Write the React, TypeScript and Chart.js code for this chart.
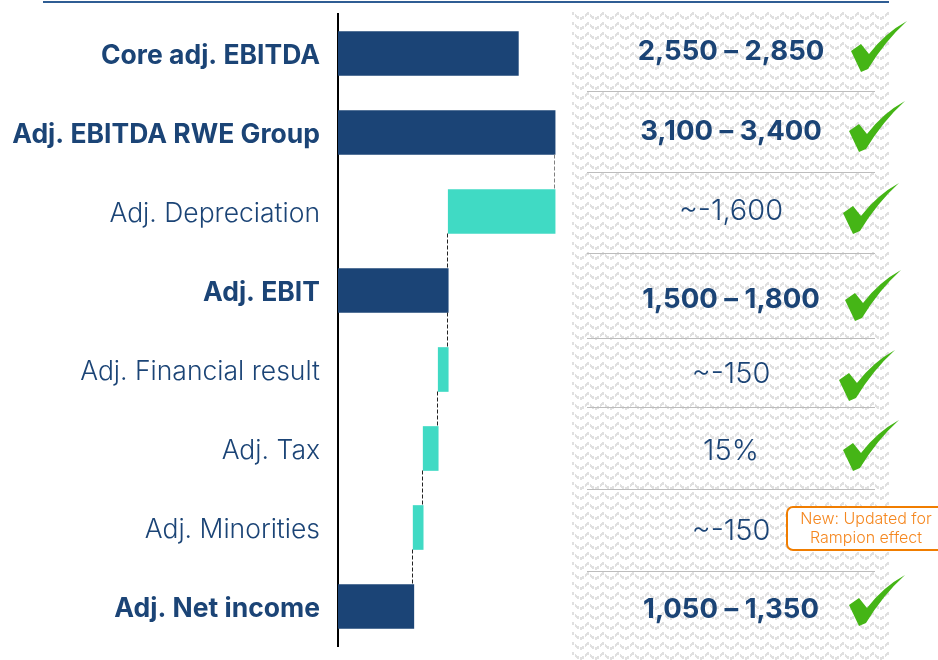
import React, { useEffect, useRef } from "react";
import { Chart, registerables } from "chart.js";

Chart.register(...registerables);

const categories = ["Core adj. EBITDA", "Adj. EBITDA RWE Group", "Adj. Depreciation", "Adj. EBIT", "Adj. Financial result", "Adj. Tax", "Adj. Minorities", "Adj. Net income"];
const boldRows = [true, true, false, true, false, false, false, true];
const barStart = [0, 0, 1650, 0, 1500, 1275, 1125, 0];
const barEnd = [2700, 3250, 3250, 1650, 1650, 1500, 1275, 1135];
const guidance = ["2,550 – 2,850", "3,100 – 3,400", "~-1,600", "1,500 – 1,800", "~-150", "15%", "~-150", "1,050 – 1,350"];
const guidanceCentreY = [52, 132, 211, 300, 374, 451, 531, 610];
const checkX = [851, 849, 843, 845, 839, 843, null, 849];
const checkY = [21, 101, 183, 270, 350, 420, null, 575];
const separatorY = [91, 172, 253, 338, 407, 489, 571];
const connectorValues = [3250, 1650, 1650, 1500, 1275, 1125];
const connectorRows = [1, 2, 3, 4, 5, 6];
const connectorColors = ["#808080", "#222", "#222", "#222", "#222", "#222"];
const calloutLines = ["New: Updated for", "Rampion effect"];

const NAVY = "#1b4476";
const TEAL = "#40dac4";
const FONT = "Inter, sans-serif";

function makePattern(ctx: CanvasRenderingContext2D) {
  const c = document.createElement("canvas");
  c.width = 15;
  c.height = 10;
  const g = c.getContext("2d")!;
  g.fillStyle = "#fff";
  g.fillRect(0, 0, 15, 10);
  g.fillStyle = "#e0e0e0";
  const wave = [4, 3, 2, 2, 3, 4, 5, 6, 6, 7, 7, 7, 6, 6, 5];
  wave.forEach((y, x) => {
    if (x % 5 !== 4) g.fillRect(x, y, 1, 3);
  });
  return ctx.createPattern(c, "repeat")!;
}

function drawCheck(ctx: CanvasRenderingContext2D, x: number, y: number) {
  ctx.fillStyle = "#45b516";
  ctx.beginPath();
  ctx.moveTo(x, y + 30);
  ctx.lineTo(x + 10, y + 23);
  ctx.lineTo(x + 18, y + 33);
  ctx.quadraticCurveTo(x + 34, y + 12, x + 56, y);
  ctx.quadraticCurveTo(x + 34, y + 20, x + 17, y + 48);
  ctx.lineTo(x + 10, y + 51);
  ctx.closePath();
  ctx.fill();
}

const sidePlugin = {
  id: "side",
  beforeDraw(chart: any) {
    const ctx = chart.ctx as CanvasRenderingContext2D;
    ctx.save();
    ctx.fillStyle = makePattern(ctx);
    ctx.fillRect(572, 12, 318, 648);
    ctx.strokeStyle = "#2f5d94";
    ctx.lineWidth = 2;
    ctx.beginPath();
    ctx.moveTo(43, 2);
    ctx.lineTo(889, 2);
    ctx.stroke();
    ctx.strokeStyle = "#bdbdbd";
    ctx.lineWidth = 1;
    separatorY.forEach((y) => {
      ctx.beginPath();
      ctx.moveTo(587, y + 0.5);
      ctx.lineTo(875, y + 0.5);
      ctx.stroke();
    });
    ctx.restore();
  },
  afterDraw(chart: any) {
    const ctx = chart.ctx as CanvasRenderingContext2D;
    const xs = chart.scales.x;
    const ys = chart.scales.y;
    ctx.save();
    ctx.lineWidth = 1;
    ctx.setLineDash([4, 2]);
    connectorRows.forEach((row, i) => {
      const x = Math.round(xs.getPixelForValue(connectorValues[i])) - 0.5;
      ctx.strokeStyle = connectorColors[i];
      ctx.beginPath();
      ctx.moveTo(x, ys.getPixelForValue(row) + 22);
      ctx.lineTo(x, ys.getPixelForValue(row + 1) - 22);
      ctx.stroke();
    });
    ctx.setLineDash([]);
    ctx.textAlign = "center";
    ctx.textBaseline = "middle";
    ctx.fillStyle = NAVY;
    guidance.forEach((t, i) => {
      ctx.font = boldRows[i] ? `700 27.5px ${FONT}` : `300 29px ${FONT}`;
      ctx.fillText(t, 731, guidanceCentreY[i]);
    });
    checkX.forEach((x, i) => {
      if (x !== null) drawCheck(ctx, x, checkY[i] as number);
    });
    ctx.fillStyle = "#fff";
    ctx.strokeStyle = "#f07d00";
    ctx.lineWidth = 2;
    ctx.beginPath();
    ctx.roundRect(787, 507, 160, 43, 6);
    ctx.fill();
    ctx.stroke();
    ctx.fillStyle = "#f5871f";
    ctx.font = `300 16px ${FONT}`;
    ctx.fillText(calloutLines[0], 866, 519);
    ctx.fillText(calloutLines[1], 866, 538);
    ctx.restore();
  },
};

export default function App() {
  const ref = useRef<HTMLCanvasElement>(null);
  useEffect(() => {
    document.body.style.margin = "0";
    const chart = new Chart(ref.current!, {
      type: "bar",
      data: {
        labels: categories,
        datasets: [
          {
            data: barStart.map((s, i) => [s, barEnd[i]]),
            backgroundColor: boldRows.map((b) => (b ? NAVY : TEAL)),
            barThickness: 44,
            borderSkipped: false,
          },
        ],
      },
      options: {
        indexAxis: "y",
        animation: false,
        responsive: false,
        layout: { padding: { left: 0, right: 48, top: 14, bottom: 14 } },
        plugins: { legend: { display: false }, tooltip: { enabled: false } },
        scales: {
          x: { display: false, min: 0, max: 8263, grid: { display: false } },
          y: {
            afterFit: (axis: any) => { axis.width = 338; axis.paddingTop = 0; axis.paddingBottom = 0; },
            grid: { display: false, drawTicks: false },
            border: { color: "#000", width: 2 },
            ticks: {
              padding: 18,
              color: NAVY,
              autoSkip: false,
              callback: (_v: any, i: number) => ["", categories[i]],
              font: (c: any) => ({ family: FONT, size: 26.5, lineHeight: "6px", weight: boldRows[c.index] ? "700" : "300" }),
            },
          },
        },
      },
      plugins: [sidePlugin],
    } as any);
    return () => chart.destroy();
  }, []);
  return <canvas ref={ref} width={938} height={660} style={{ display: "block" }} />;
}
